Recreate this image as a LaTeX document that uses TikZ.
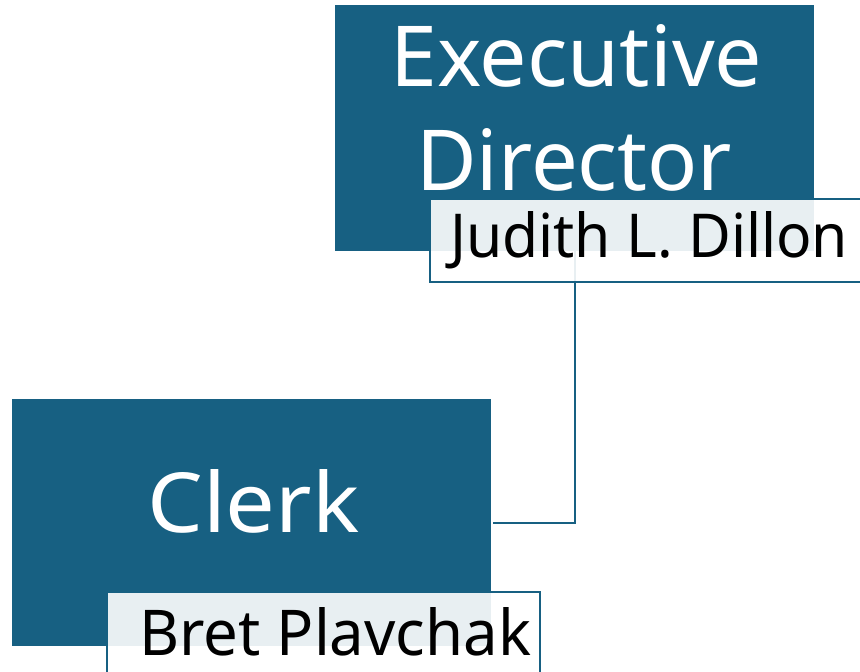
\documentclass[tikz,border=0pt]{standalone}
\usepackage{fontspec}
\setmainfont{Noto Sans}
\usepackage{graphicx}
\definecolor{orgblue}{RGB}{23,96,130}
\tikzset{
  bluebox/.style={fill=orgblue, draw=none, inner sep=0pt, rectangle},
  namebox/.style={fill=white, fill opacity=0.9, draw=orgblue, draw opacity=1, line width=1.5pt, inner sep=0pt, rectangle},
  conn/.style={draw=orgblue, line width=2pt},
  wtext/.style={text=white, inner sep=0pt, anchor=base west, font=\fontsize{40}{40}\selectfont},
  btext/.style={text=black, inner sep=0pt, anchor=base west, font=\fontsize{40}{40}\selectfont},
}
\begin{document}
\begin{tikzpicture}[x=1pt,y=-1pt]
\useasboundingbox (0,0) rectangle (860,672);
\clip (0,0) rectangle (860,672);
% blue boxes
\node[bluebox, minimum width=479pt, minimum height=246pt] (exec) at (574.5,128) {};
\node[bluebox, minimum width=479.5pt, minimum height=247pt] (clerk) at (251.25,522.5) {};
% connector
\draw[conn] (exec.south) |- ([xshift=2pt]clerk.east);
% name boxes
\node[namebox, minimum width=460pt, minimum height=83pt] (jbox) at (660,240.5) {};
\node[namebox, minimum width=433pt, minimum height=100pt] (bbox) at (323.5,642) {};
% texts
\node[wtext] (t1) at (390,86) {\resizebox{372pt}{62pt}{Executive}};
\node[wtext] (t2) at (416,190) {\resizebox{316pt}{62pt}{Director}};
\node[wtext] (t3) at (147,532) {\resizebox{212pt}{63pt}{Clerk}};
\node[btext] (t4) at (450,257) {\resizebox{398pt}{46pt}{Judith L. Dillon}};
\node[btext] (t5) at (139,655) {\resizebox{392pt}{48pt}{Bret Plavchak}};
\end{tikzpicture}
\end{document}
